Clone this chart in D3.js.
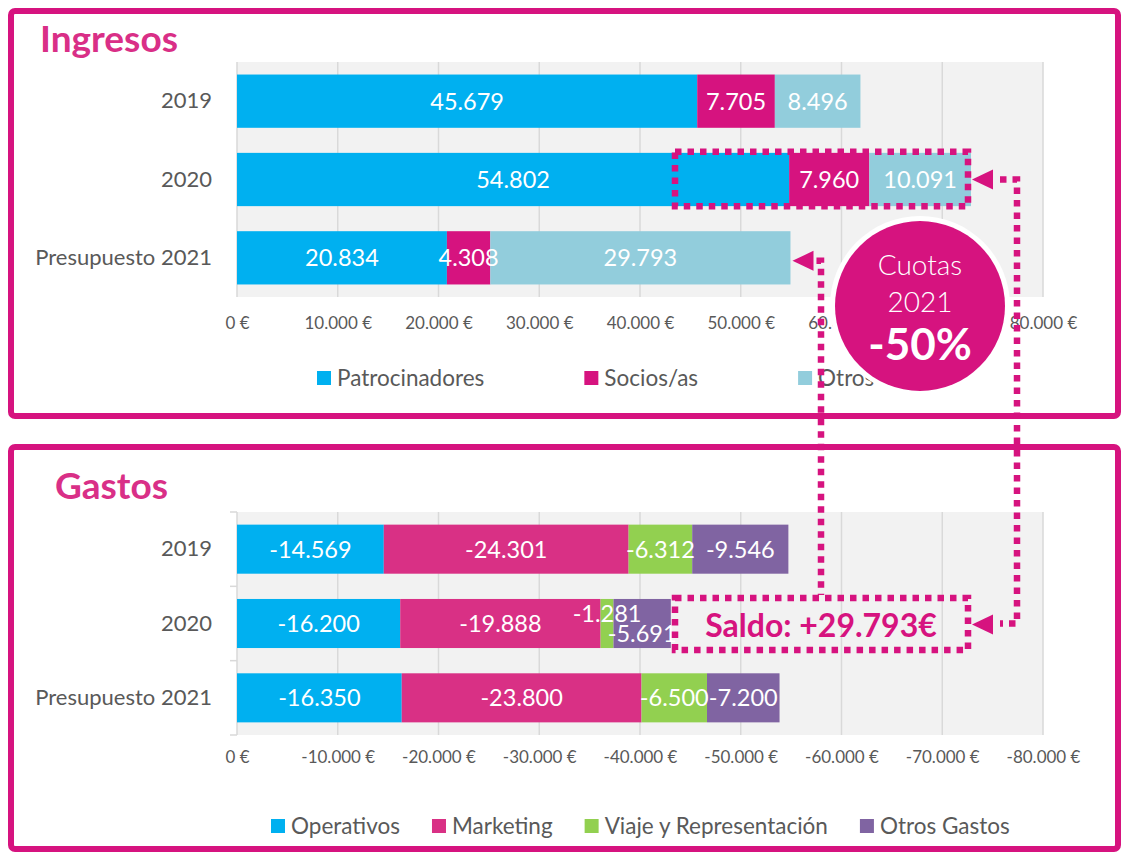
<!DOCTYPE html>
<html>
<head>
<meta charset="utf-8">
<script src="https://cdn.jsdelivr.net/npm/d3@7"></script>
<style>
  body { margin: 0; background: #fff; }
  text { font-family: Lato, 'Open Sans', sans-serif; }
</style>
</head>
<body>
<svg id="chart" width="1122" height="853"></svg>
<script>
// data
const years = ['2019', '2020', 'Presupuesto 2021']

const ingresosKeys = ['Patrocinadores', 'Socios/as', 'Otros']
const patrocinadores = [45679, 54802, 20834]
const socios = [7705, 7960, 4308]
const otrosIngresos = [8496, 10091, 29793]
const ingresosTicks = [0, 10000, 20000, 30000, 40000, 50000, 60000, 70000, 80000]

const gastosKeys = ['Operativos', 'Marketing', 'Viaje y Representación', 'Otros Gastos']
const operativos = [-14569, -16200, -16350]
const marketing = [-24301, -19888, -23800]
const viaje = [-6312, -1281, -6500]
const otrosGastos = [-9546, -5691, -7200]
const gastosTicks = [0, -10000, -20000, -30000, -40000, -50000, -60000, -70000, -80000]

const cuotaLines = ['Cuotas', '2021', '-50%']
const saldo = 29793

const PINK = '#d6137f'
const GREY = '#595959'

const es = d3.formatLocale({ decimal: ',', thousands: '.', grouping: [3], currency: ['', ' €'], minus: '-' })
const fmtNum = es.format(',d')
const fmtEur = v => fmtNum(v) + ' €'

const svg = d3.select('#chart')

// panel frames
svg.append('rect').attr('x', 11).attr('y', 11).attr('width', 1107).attr('height', 405)
    .attr('rx', 4).attr('fill', 'none').attr('stroke', PINK).attr('stroke-width', 6)
svg.append('rect').attr('x', 11).attr('y', 447).attr('width', 1107).attr('height', 402)
    .attr('rx', 4).attr('fill', 'none').attr('stroke', PINK).attr('stroke-width', 6)

function drawPanel(opt) {
    const g = svg.append('g')
    const rows = years.map((yr, i) => {
        const r = { year: yr }
        opt.keys.forEach((k, j) => r[k] = opt.series[j][i])
        return r
    })
    const stacked = d3.stack().keys(opt.keys)(rows)

    const x = d3.scaleLinear().domain(opt.domain).range([237, 1043])
    const y = d3.scaleBand().domain(years).range(opt.yRange)
        .paddingInner(opt.padIn).paddingOuter(opt.padOut)

    // title
    g.append('text').attr('x', opt.titleX).attr('y', opt.titleY)
        .attr('font-size', 37).attr('font-weight', 'bold').attr('fill', '#d92f87')
        .text(opt.title)

    // plot background
    g.append('rect').attr('x', 237).attr('y', opt.yRange[0])
        .attr('width', 1043 - 237).attr('height', opt.yRange[1] - opt.yRange[0])
        .attr('fill', '#f2f2f2')

    // gridlines
    g.append('g').selectAll('line').data(opt.ticks.slice(1)).enter().append('line')
        .attr('x1', d => x(d)).attr('x2', d => x(d))
        .attr('y1', opt.yRange[0]).attr('y2', opt.yRange[1])
        .attr('stroke', '#d9d9d9').attr('stroke-width', 1.5)

    g.append('line').attr('x1', 237).attr('x2', 237)
        .attr('y1', opt.yRange[0]).attr('y2', opt.yRange[1])
        .attr('stroke', '#d9d9d9').attr('stroke-width', 1.5)
    if (opt.catTicks) {
        const edges = [opt.yRange[0]].concat(years.map(d => y(d) + y.bandwidth() + y.step() * y.paddingInner() / 2))
        edges[edges.length - 1] = opt.yRange[1]
        g.append('g').selectAll('line').data(edges).enter().append('line')
            .attr('x1', 230).attr('x2', 237).attr('y1', d => d).attr('y2', d => d)
            .attr('stroke', '#d9d9d9').attr('stroke-width', 1.5)
    }

    // x axis
    const xa = g.append('g').attr('transform', `translate(0,${opt.yRange[1]})`)
        .call(d3.axisBottom(x).tickValues(opt.ticks).tickSize(0).tickPadding(opt.tickPad).tickFormat(fmtEur))
    xa.select('.domain').remove()
    xa.selectAll('text').attr('font-size', 17).attr('fill', GREY).attr('font-family', 'Lato, sans-serif')

    // y axis
    const ya = g.append('g').attr('transform', 'translate(237,0)')
        .call(d3.axisLeft(y).tickSize(0).tickPadding(25))
    ya.select('.domain').remove()
    ya.selectAll('text').attr('font-size', 22).attr('fill', GREY).attr('font-family', 'Lato, sans-serif')

    // bars
    const layers = g.append('g').selectAll('g').data(stacked).enter().append('g')
        .attr('fill', (d, i) => opt.colors[i])
    layers.selectAll('rect').data(d => d).enter().append('rect')
        .attr('x', d => Math.min(x(d[0]), x(d[1])))
        .attr('width', d => Math.abs(x(d[1]) - x(d[0])))
        .attr('y', d => y(d.data.year))
        .attr('height', y.bandwidth())

    // labels
    const labels = []
    stacked.forEach((layer, li) => {
        layer.forEach((d, ri) => {
            const w = Math.abs(x(d[1]) - x(d[0]))
            labels.push({ li, ri, v: d[1] - d[0], cx: (x(d[0]) + x(d[1])) / 2, cy: y(d.data.year) + y.bandwidth() / 2, w, dy: 0 })
        })
    })
    // crowded labels step up / down
    labels.forEach(l => {
        if (l.w < 25) {
            l.dy = -10
            const nxt = labels.find(m => m.ri === l.ri && m.li === l.li + 1)
            if (nxt) nxt.dy = 10
        }
    })
    g.append('g').selectAll('text').data(labels).enter().append('text')
        .attr('x', d => d.cx).attr('y', d => d.cy + d.dy)
        .attr('dy', '0.36em').attr('text-anchor', 'middle')
        .attr('font-size', 23.5).attr('fill', '#fff')
        .text(d => fmtNum(d.v))

    // legend
    const lg = g.append('g').attr('transform', `translate(${opt.legendX},${opt.legendY})`)
    let cur = 0
    opt.keys.forEach((k, i) => {
        lg.append('rect').attr('x', cur).attr('y', -7).attr('width', 14).attr('height', 14).attr('fill', opt.colors[i])
        const t = lg.append('text').attr('x', cur + 20).attr('y', 0).attr('dy', '0.35em')
            .attr('font-size', 22.5).attr('fill', GREY).text(k)
        cur += 20 + t.node().getComputedTextLength() + opt.legendGap
    })
    return { x, y }
}

const ingPanel = drawPanel({
    title: 'Ingresos', titleX: 40, titleY: 52,
    keys: ingresosKeys, series: [patrocinadores, socios, otrosIngresos],
    colors: ['#00b0f0', '#d6137f', '#92cddc'],
    domain: [0, 80000], ticks: ingresosTicks,
    yRange: [62, 297], padIn: 0.32, padOut: 0.16, tickPad: 20,
    legendX: 317, legendY: 378, legendGap: 100, catTicks: false
})

const gasPanel = drawPanel({
    title: 'Gastos', titleX: 55, titleY: 499,
    keys: gastosKeys, series: [operativos, marketing, viaje, otrosGastos],
    colors: ['#00b0f0', '#d93085', '#92d050', '#8064a2'],
    domain: [0, -80000], ticks: gastosTicks,
    yRange: [512, 735], padIn: 0.34, padOut: 0.17, tickPad: 16,
    legendX: 271, legendY: 826, legendGap: 32, catTicks: true
})

// annotations
const dots = { fill: 'none', stroke: PINK, 'stroke-width': 6.5, 'stroke-dasharray': '6.5 6' }
function dotted(sel) { Object.entries(dots).forEach(([k, v]) => sel.attr(k, v)); return sel }
function arrow(tipX, yv) {
    svg.append('path').attr('d', `M${tipX},${yv}L${tipX + 21},${yv - 10}L${tipX + 21},${yv + 10}Z`).attr('fill', PINK)
}

const y20 = ingPanel.y('2020'), bw = ingPanel.y.bandwidth()
const y21 = ingPanel.y('Presupuesto 2021')
const gy20 = gasPanel.y('2020'), gbw = gasPanel.y.bandwidth()

// box around 2020 socios + otros
dotted(svg.append('rect').attr('x', 675).attr('y', y20 - 1).attr('width', 293).attr('height', bw + 1))
arrow(972, y20 + bw / 2)
dotted(svg.append('path').attr('d', `M1000,${y20 + bw / 2}H1017V${gy20 + gbw / 2}H1000`))

// saldo box
dotted(svg.append('rect').attr('x', 675).attr('y', gy20 - 1).attr('width', 293).attr('height', gbw + 3))
arrow(972, gy20 + gbw / 2 + 1)
svg.append('text').attr('x', 821).attr('y', gy20 + gbw / 2 + 2).attr('dy', '0.35em')
    .attr('text-anchor', 'middle').attr('font-size', 32).attr('font-weight', 'bold').attr('fill', PINK)
    .text('Saldo: +' + fmtNum(saldo) + '€')

// link from 2021 otros to saldo
const tip21 = ingPanel.x(patrocinadores[2] + socios[2] + otrosIngresos[2]) + 2
arrow(tip21, y21 + bw / 2 + 3)
dotted(svg.append('path').attr('d', `M${tip21 + 24},${y21 + bw / 2 + 3}H821V${gy20 - 4}`))

// cuotas bubble
svg.append('circle').attr('cx', 920).attr('cy', 306).attr('r', 90).attr('fill', '#fff')
svg.append('circle').attr('cx', 920).attr('cy', 306).attr('r', 85).attr('fill', PINK)
const bubble = svg.append('g').attr('text-anchor', 'middle').attr('fill', '#fff')
bubble.append('text').attr('x', 920).attr('y', 275).attr('font-size', 28).attr('font-weight', 300).text(cuotaLines[0])
bubble.append('text').attr('x', 920).attr('y', 312).attr('font-size', 28).attr('font-weight', 300).text(cuotaLines[1])
bubble.append('text').attr('x', 920).attr('y', 360).attr('font-size', 44).attr('font-weight', 'bold').text(cuotaLines[2])
</script>
</body>
</html>
